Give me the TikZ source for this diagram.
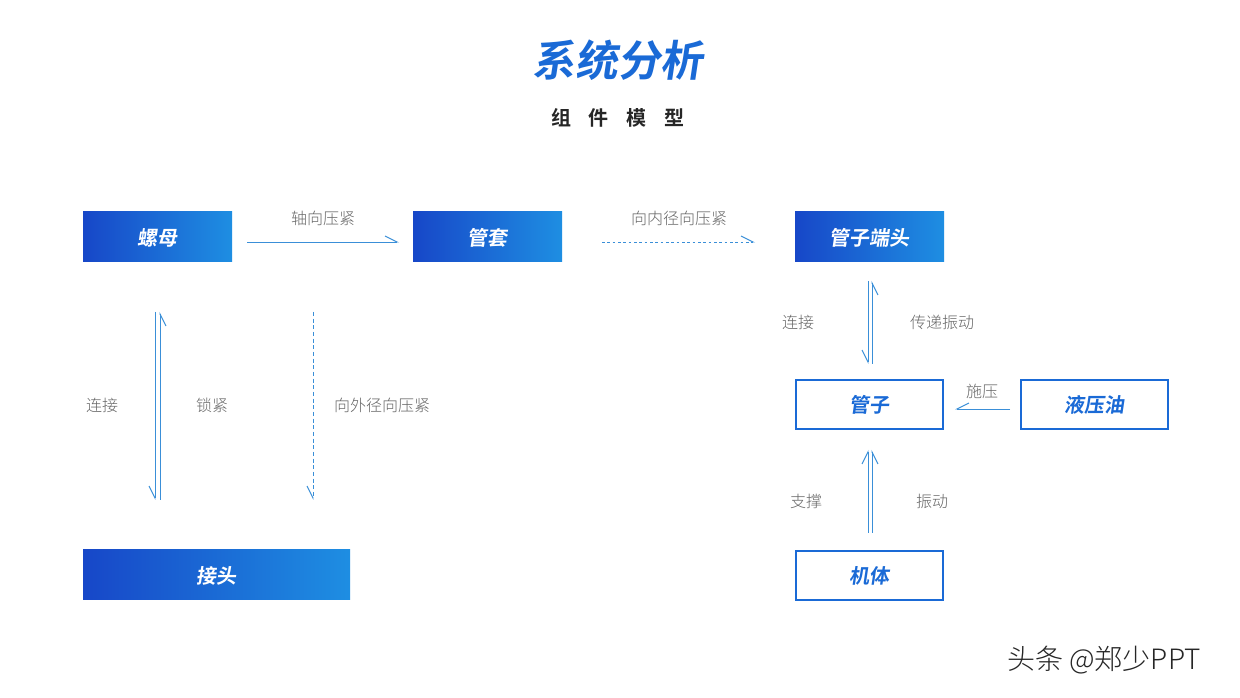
\documentclass[tikz,border=0pt]{standalone}
\usepackage{fontspec}
\setmainfont{Noto Sans CJK SC}
\newfontfamily\cjkb[FakeSlant=0.15]{Noto Sans CJK SC Bold}
\newfontfamily\cjkbu{Noto Sans CJK SC Bold}
\newfontfamily\cjkl{Noto Sans CJK SC Light}
\usetikzlibrary{arrows.meta}
\definecolor{dblue}{HTML}{1747C8}
\definecolor{lblue}{HTML}{1E8EE2}
\definecolor{mblue}{HTML}{1A6AD6}
\definecolor{lnc}{HTML}{3A8FD8}
\definecolor{gtext}{HTML}{666666}
\begin{document}
\begin{tikzpicture}[x=0.75pt,y=-0.75pt,
  fillbox/.style={draw=none,left color=dblue,right color=lblue},
  boxtext/.style={text=white,font=\cjkb\fontsize{15}{15}\selectfont},
  linebox/.style={draw=mblue,line width=1.6pt,fill=white,text=mblue,font=\cjkb\fontsize{15}{15}\selectfont,minimum width=110pt,minimum height=37pt},
  lab/.style={text=gtext,font=\cjkl\fontsize{12}{12}\selectfont},
  hl/.style={draw=lnc,line width=0.7pt,-{Straight Barb[harpoon,length=9pt,width=9pt]}},
  hr/.style={draw=lnc,line width=0.7pt,-{Straight Barb[harpoon,swap,length=9pt,width=9pt]}}]
\fill[white] (0,0) rectangle (1240,698);
\useasboundingbox (0,0) rectangle (1240,698);
\node[text=mblue,font=\cjkb\fontsize{32}{32}\selectfont] (t) at (618,60) {系统分析};
\node[text=black!85,font=\cjkbu\fontsize{15}{15}\selectfont] (st) at (618,118) {组\hspace{0.9em}件\hspace{0.9em}模\hspace{0.9em}型};
\path[fillbox] (83,212) rectangle (232,262); \node[boxtext] (lm) at (157.5,238) {螺母};
\path[fillbox] (413,212) rectangle (562,262); \node[boxtext] (gt) at (487.5,238) {管套};
\path[fillbox] (795,212) rectangle (944,262); \node[boxtext] (gd) at (869.5,238) {管子端头};
\path[fillbox] (83,550) rectangle (350,600); \node[boxtext] (jt) at (216.5,576) {接头};
\node[linebox] (gz) at (869.5,404.5) {管子};
\node[linebox] (yy) at (1094.5,404.5) {液压油};
\node[linebox] (jx) at (869.5,575.5) {机体};
\coordinate (a1) at (247,242); \coordinate (a2) at (399,242);
\coordinate (b1) at (602,242); \coordinate (b2) at (755,242);
\coordinate (c1) at (160,500); \coordinate (c2) at (160,312);
\coordinate (d1) at (155,312); \coordinate (d2) at (155,500);
\coordinate (e1) at (313,312); \coordinate (e2) at (313,500);
\coordinate (f1) at (868,281); \coordinate (f2) at (868,364);
\coordinate (g1) at (872,364); \coordinate (g2) at (872,281);
\coordinate (h1) at (1010,409); \coordinate (h2) at (955,409);
\coordinate (i1) at (868,533); \coordinate (i2) at (868,450);
\coordinate (j1) at (872,533); \coordinate (j2) at (872,450);
\draw[hl] (a1) -- (a2);
\draw[hl,dash pattern=on 2pt off 2pt] (b1) -- (b2);
\draw[hr] (c1) -- (c2);
\draw[hr] (d1) -- (d2);
\draw[hr,dash pattern=on 3pt off 2pt] (e1) -- (e2);
\draw[hr] (f1) -- (f2);
\draw[hr] (g1) -- (g2);
\draw[hr] (h1) -- (h2);
\draw[hl] (i1) -- (i2);
\draw[hr] (j1) -- (j2);
\node[lab] (l1) at (323,218) {轴向压紧};
\node[lab] (l2) at (679,218) {向内径向压紧};
\node[lab] (l3) at (102,405) {连接};
\node[lab] (l4) at (212,405) {锁紧};
\node[lab] (l5) at (382,405) {向外径向压紧};
\node[lab] (l6) at (798,322) {连接};
\node[lab] (l7) at (942,322) {传递振动};
\node[lab] (l8) at (982,391) {施压};
\node[lab] (l9) at (806,501) {支撑};
\node[lab] (l10) at (932,501) {振动};
\node[text=black!85,font=\cjkl\fontsize{21}{21}\selectfont] (wm) at (1104,660) {头条 @郑少PPT};
\end{tikzpicture}
\end{document}
